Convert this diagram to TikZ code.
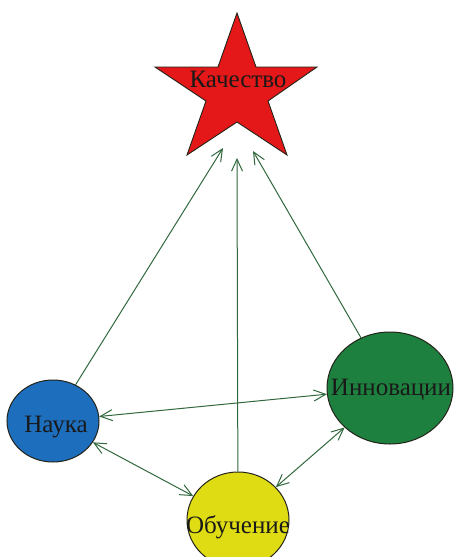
\documentclass[tikz,border=0pt]{standalone}
\usepackage{fontspec}
\setmainfont{Liberation Serif}
\usetikzlibrary{shapes.geometric,arrows.meta}
\definecolor{starred}{RGB}{228,24,24}
\definecolor{nblue}{RGB}{30,110,190}
\definecolor{ngreen}{RGB}{30,128,62}
\definecolor{nyellow}{RGB}{224,220,20}
\definecolor{edgegreen}{RGB}{50,104,62}
\definecolor{bordr}{RGB}{35,35,25}
\tikzset{
  blob/.style={ellipse, draw=bordr, line width=1pt, inner sep=0pt},
  lbl/.style={anchor=base, inner sep=0pt, text=black!90, font=\fontsize{25}{30}\selectfont},
  link/.style={draw=edgegreen, line width=1pt},
  tip/.style={-{Straight Barb[length=12pt,width=11pt,line width=1pt]}},
  tips/.style={{Straight Barb[length=12pt,width=11pt,line width=1pt]}-{Straight Barb[length=12pt,width=11pt,line width=1pt]}}
}
\begin{document}
\begin{tikzpicture}[x=1pt,y=-1pt]
\useasboundingbox (0,0) rectangle (454,557);
\clip (0,0) rectangle (454,557);
\fill[white] (0,0) rectangle (454,557);
% star
\draw[fill=starred, draw=bordr, line width=0.9pt]
  (237,13) -- (256,67) -- (317,67) -- (268,101) -- (287,155) -- (237,122)
  -- (187,155) -- (206,101) -- (155,67) -- (218,67) -- cycle;
\node[lbl] (ql) at (238,87) {Качество};
\coordinate (q1) at (223,148);
\coordinate (q2) at (237,158);
\coordinate (q3) at (253,151);
% nodes
\node[blob, fill=nblue, minimum width=92pt, minimum height=82pt] (n) at (53,421) {};
\node[blob, fill=ngreen, minimum width=126pt, minimum height=112pt] (i) at (390,388) {};
\node[blob, fill=nyellow, minimum width=102pt, minimum height=96pt] (o) at (238,520) {};
\node[lbl] (nl) at (56,432) {Наука};
\node[lbl] (il) at (391,395) {Инновации};
\node[lbl] (ol) at (238,533) {Обучение};
% connectors
\draw[link, tip] (n) -- (q1);
\draw[link, tip] (o) -- (q2);
\draw[link, tip] (i) -- (q3);
\draw[link, tips] (n) -- (i);
\draw[link, tips] (n) -- (o);
\draw[link, tips] (o) -- (i);
\end{tikzpicture}
\end{document}
